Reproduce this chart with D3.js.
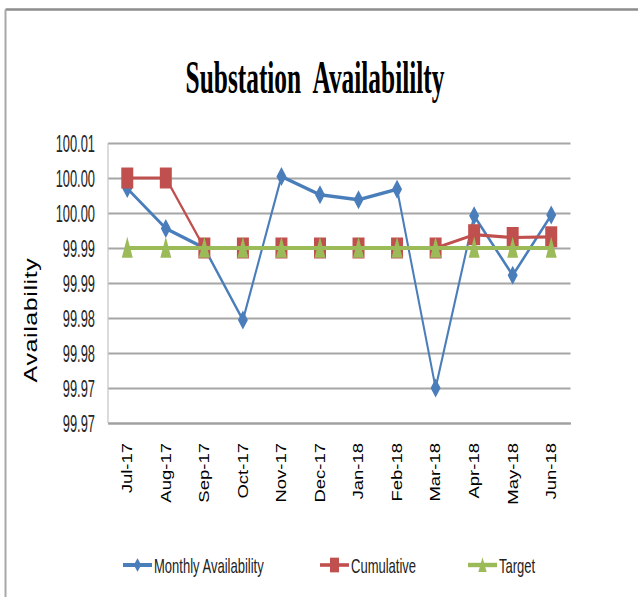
<!DOCTYPE html>
<html>
<head>
<meta charset="utf-8">
<script src="https://cdn.jsdelivr.net/npm/d3@7"></script>
<style>
  body { margin: 0; background: #fff; }
  svg { display: block; }
</style>
</head>
<body>
<svg id="chart" width="638" height="597"></svg>
<script>
// ---- data ----
const categories = ["Jul-17", "Aug-17", "Sep-17", "Oct-17", "Nov-17", "Dec-17",
                    "Jan-18", "Feb-18", "Mar-18", "Apr-18", "May-18", "Jun-18"];
const monthlyAvailability = [99.9985, 99.9928, 99.9900, 99.9797, 100.0002, 99.9976,
                             99.9969, 99.9984, 99.9700, 99.9946, 99.9861, 99.9947];
const cumulative = [100.0000, 100.0000, 99.9900, 99.9900, 99.9900, 99.9900,
                    99.9900, 99.9900, 99.9900, 99.9919, 99.9915, 99.9916];
const target = [99.99, 99.99, 99.99, 99.99, 99.99, 99.99,
                99.99, 99.99, 99.99, 99.99, 99.99, 99.99];
const yTicks = [99.965, 99.970, 99.975, 99.980, 99.985, 99.990, 99.995, 100.000, 100.005];
const yTickLabels = ["99.97", "99.97", "99.98", "99.98", "99.99", "99.99", "100.00", "100.00", "100.01"];
const seriesNames = ["Monthly Availability", "Cumulative", "Target"];

// ---- layout ----
const plot = { left: 108, right: 570.5, top: 143, bottom: 423 };
const SQ = 0.55;            // horizontal squeeze of the original picture
const colors = ["#4a7ebb", "#c0504d", "#9bbb59"];
const SANS = "'Liberation Sans', Arial, sans-serif";

const svg = d3.select("#chart");
svg.append("rect").attr("width", 638).attr("height", 597).attr("fill", "#fff");

// outer chart border (only the top and left edges show)
svg.append("line").attr("x1", 5.5).attr("x2", 638).attr("y1", 9.5).attr("y2", 9.5)
    .attr("stroke", "#8c8c8c").attr("stroke-width", 2.4);
svg.append("line").attr("x1", 5.5).attr("x2", 5.5).attr("y1", 9.5).attr("y2", 597)
    .attr("stroke", "#a8a8a8").attr("stroke-width", 2);

const x = d3.scaleBand().domain(categories).range([plot.left, plot.right]);
const y = d3.scaleLinear().domain(d3.extent(yTicks)).range([plot.bottom, plot.top]);

// ---- y axis + gridlines ----
const yAxis = svg.append("g")
    .attr("transform", `translate(${plot.left},0)`)
    .call(d3.axisLeft(y)
        .tickValues(yTicks)
        .tickSize(-(plot.right - plot.left))
        .tickFormat((d, i) => yTickLabels[i]));
yAxis.select(".domain").remove();
yAxis.selectAll(".tick line").attr("stroke", "#a6a6a6").attr("stroke-width", 1.8);
yAxis.selectAll(".tick text")
    .attr("x", 0).attr("dy", "0.36em")
    .attr("transform", "translate(-13,0) scale(0.56,1)")
    .attr("font-family", SANS).attr("font-size", 23).attr("fill", "#262626");

svg.append("line")
    .attr("x1", plot.left).attr("x2", plot.left)
    .attr("y1", plot.top).attr("y2", plot.bottom)
    .attr("stroke", "#c4c4c4").attr("stroke-width", 1.2);

// ---- x axis ----
const xAxis = svg.append("g")
    .attr("transform", `translate(0,${plot.bottom})`)
    .call(d3.axisBottom(x).tickSize(0).tickSizeOuter(0));
xAxis.select(".domain").attr("stroke", "#a0a0a0").attr("stroke-width", 2);
xAxis.selectAll(".tick text")
    .attr("x", 0).attr("y", 0).attr("dy", "0.35em")
    .attr("text-anchor", "end")
    .attr("transform", "translate(0,20) scale(0.75,1) rotate(-90)")
    .attr("font-family", SANS).attr("font-size", 18.5).attr("fill", "#000");

// ---- marker shapes (w, h in local units) ----
const markerPath = {
    diamond: (w, h) => `M0,${-h / 2}L${w / 2},0L0,${h / 2}L${-w / 2},0Z`,
    square: (w, h) => `M${-w / 2},${-h / 2}H${w / 2}V${h / 2}H${-w / 2}Z`,
    triangle: (w, h) => `M0,${-h * 0.53}L${w / 2},${h * 0.47}L${-w / 2},${h * 0.47}Z`
};
const series = [
    { name: seriesNames[0], values: monthlyAvailability, color: colors[0], width: 3.6, shape: "diamond", mw: 10, mh: 19 },
    { name: seriesNames[1], values: cumulative, color: colors[1], width: 3.2, shape: "square", mw: 12, mh: 21 },
    { name: seriesNames[2], values: target, color: colors[2], width: 4, shape: "triangle", mw: 11, mh: 21 }
];

// ---- series, drawn in a squeezed group ----
const sq = svg.append("g").attr("transform", `scale(${SQ},1)`);
const px = c => (x(c) + x.bandwidth() / 2) / SQ;
const line = d3.line().x((d, i) => px(categories[i])).y(d => y(d));

series.forEach(s => {
    const g = sq.append("g");
    g.append("path")
        .attr("d", line(s.values))
        .attr("fill", "none")
        .attr("stroke", s.color)
        .attr("stroke-width", s.width)
        .attr("stroke-linejoin", "round");
    g.selectAll("path.marker")
        .data(s.values)
        .join("path")
        .attr("class", "marker")
        .attr("transform", (d, i) => `translate(${px(categories[i])},${y(d)})`)
        .attr("d", markerPath[s.shape](s.mw / SQ, s.mh))
        .attr("fill", s.color);
});

// ---- title ----
svg.append("text")
    .attr("transform", "translate(315,93) scale(0.54,1)")
    .attr("text-anchor", "middle")
    .attr("font-family", "'Liberation Serif', 'Times New Roman', serif")
    .attr("font-weight", "bold")
    .attr("font-size", 47)
    .attr("fill", "#000")
    .style("white-space", "pre")
    .text("Substation  Availabililty");

// ---- y title ----
svg.append("text")
    .attr("transform", "translate(31,320) scale(0.72,1) rotate(-90)")
    .attr("text-anchor", "middle")
    .attr("dy", "0.35em")
    .attr("font-family", SANS)
    .attr("font-size", 25)
    .attr("letter-spacing", 0.6)
    .attr("fill", "#000")
    .text("Availability");

// ---- legend ----
const legendX = [123, 320, 468];
const legendY = 565;
series.forEach((s, i) => {
    const g = svg.append("g").attr("transform", `translate(${legendX[i]},${legendY})`);
    g.append("line").attr("x1", 0).attr("x2", 29)
        .attr("stroke", s.color).attr("stroke-width", s.width + 0.4);
    g.append("path")
        .attr("transform", "translate(14.5,0)")
        .attr("d", markerPath[s.shape](s.mw * 0.75, s.mh * 0.7))
        .attr("fill", s.color);
    g.append("text")
        .attr("transform", "translate(31,8) scale(0.62,1)")
        .attr("font-family", SANS)
        .attr("font-size", 21)
        .attr("fill", "#222")
        .text(s.name);
});
</script>
</body>
</html>
